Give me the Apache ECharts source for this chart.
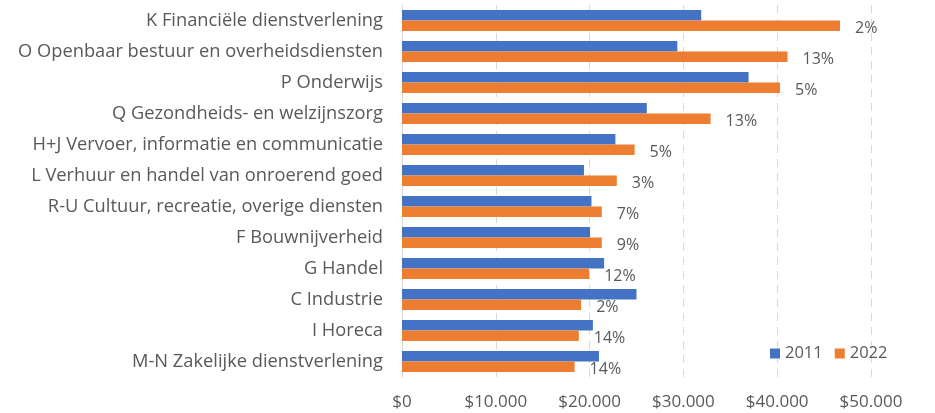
<!DOCTYPE html>
<html><head><meta charset="utf-8">
<script src="https://cdn.jsdelivr.net/npm/echarts@6/dist/echarts.min.js"></script>
<style>html,body{margin:0;padding:0;background:#fff}#c{width:935px;height:413px}</style>
</head><body><div id="c"></div>
<script>
const categories = ["K Financiële dienstverlening","O Openbaar bestuur en overheidsdiensten","P Onderwijs","Q Gezondheids- en welzijnszorg","H+J Vervoer, informatie en communicatie","L Verhuur en handel van onroerend goed","R-U Cultuur, recreatie, overige diensten","F Bouwnijverheid","G Handel","C Industrie","I Horeca","M-N Zakelijke dienstverlening"];
const values2011 = [31900,29350,36950,26100,22750,19400,20200,20050,21550,25000,20350,21000];
const values2022 = [46700,41100,40300,32900,24800,22900,21300,21300,19950,19100,18850,18400];
const pctLabels = ["2%","13%","5%","13%","5%","3%","7%","9%","12%","2%","14%","14%"];
const xTicks = {min:0,max:50000,interval:10000};
const FONT = "Open Sans";
const chart = echarts.init(document.getElementById('c'));
chart.setOption({
  animation:false,
  textStyle:{fontFamily:FONT},
  grid:{left:402,right:64,top:5,bottom:36,containLabel:false},
  legend:{data:['2011','2022'],left:765,top:340,itemWidth:10,itemHeight:10,itemGap:12,
    icon:'rect',textStyle:{fontFamily:FONT,fontSize:16.5,color:'#595959'}},
  xAxis:{type:'value',min:xTicks.min,max:xTicks.max,interval:xTicks.interval,
    axisLine:{show:false},axisTick:{show:false},
    splitLine:{show:true,lineStyle:{color:'#d9d9d9',type:[8,6],width:1}},
    axisLabel:{fontFamily:FONT,fontSize:17,color:'#595959',margin:17,
      formatter:v=>'$'+v.toLocaleString('de-DE')}},
  yAxis:{type:'category',data:categories,inverse:true,
    axisLine:{show:true,lineStyle:{color:'#d9d9d9',width:1}},axisTick:{show:false},
    axisLabel:{fontFamily:FONT,fontSize:18.3,color:'#595959',margin:19}},
  series:[
    {name:'2011',type:'bar',data:values2011,barGap:'0%',barCategoryGap:'32%',
      itemStyle:{color:'#4472C4'}},
    {name:'2022',type:'bar',data:values2022,barGap:'0%',barCategoryGap:'32%',
      itemStyle:{color:'#ED7D31'},
      label:{show:true,position:'right',distance:15,offset:[0,3],fontFamily:FONT,fontSize:16,color:'#595959',
        formatter:p=>pctLabels[p.dataIndex]}}
  ]
});
</script></body></html>
